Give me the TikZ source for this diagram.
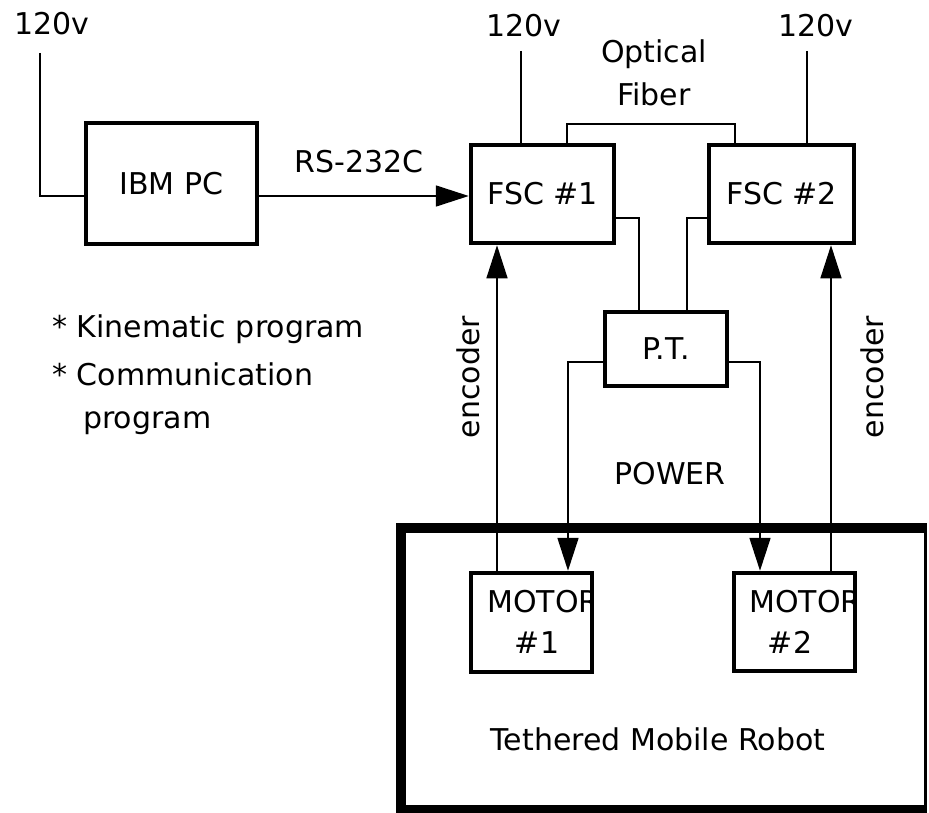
\documentclass[tikz,border=0pt]{standalone}
\usepackage{fontspec}
\setmainfont{DejaVu Sans}
\usetikzlibrary{arrows.meta}
\begin{document}
\begin{tikzpicture}[
	x=1pt,y=-1pt,
	font=\fontsize{30}{43}\selectfont,
	blk/.style={draw,line width=4.5pt,inner sep=0pt},
	txt/.style={inner sep=0pt},
	wire/.style={line width=1.7pt},
	sig/.style={wire,-{Triangle[length=33pt,width=21pt]}},
	enc/.style={line width=1.3pt,-{Triangle[length=33pt,width=21pt]}}
	]
	\useasboundingbox (0,0) rectangle (929,813);
	% robot frame
	\draw[line width=3pt] (925,524) -- (925,812);
	\draw[line width=10pt] (926.5,528) -- (401,528) -- (401,810) -- (926.5,810);
	% boxes
	\node[blk,minimum width=171,minimum height=121] (pc) at (171.5,183.5) {IBM PC};
	\node[blk,minimum width=143,minimum height=98] (f1) at (542.5,194) {FSC \#1};
	\node[blk,minimum width=145,minimum height=98] (f2) at (781.5,194) {FSC \#2};
	\node[blk,minimum width=122,minimum height=74] (pt) at (666,349) {P.T.};
	\node[blk,minimum width=121,minimum height=99] (m1) at (531.5,622.5) {};
	\node[blk,minimum width=121,minimum height=98] (m2) at (794.5,622) {};
	\foreach \n/\x/\c in {1/487/537,2/749/790}{
		\begin{scope}
			\clip (m\n.south west) rectangle ([xshift=-4.5pt]m\n.north east);
			\node[txt,anchor=base west] (mt\n) at (\x,612) {MOTOR};
		\end{scope}
		\node[txt,anchor=base] (mn\n) at (\c,653) {\#\n};
	}
	% labels
	\foreach \n/\x/\y in {0/52/35,1/524/37,2/816/37}{
		\node[txt,anchor=base] (v\n) at (\x,\y) {120v};
	}
	\node[txt,anchor=base] (rs) at (359,173) {RS-232C};
	\node[txt,align=center] (of) at (654,73) {Optical\\Fiber};
	\node[txt,anchor=base] (pw) at (670,484) {POWER};
	\node[txt,anchor=base] (tmr) at (658,750) {Tethered Mobile Robot};
	\node[txt,rotate=90] (e1) at (468,377) {encoder};
	\node[txt,rotate=90] (e2) at (872,377) {encoder};
	\node[txt,anchor=base west] (k1) at (52,337) {* Kinematic program};
	\node[txt,anchor=base west] (k2) at (52,385) {* Communication};
	\node[txt,anchor=base west] (k3) at (83,428) {program};
	% supply lines
	\coordinate (c0) at (40,53);
	\coordinate (bus) at (0,196);
	\draw[wire] (c0) |- (pc.west |- bus);
	\foreach \n/\x in {1/521,2/807}{
		\coordinate (c\n) at (\x,51);
		\draw[wire] (c\n) -- (c\n |- f\n.north);
	}
	\draw[sig] (pc.east |- bus) -- (f1.west |- bus);
	% optical fiber
	\coordinate (fa) at (567,124);
	\coordinate (fb) at (735,124);
	\draw[wire] (fa |- f1.north) -- (fa) -- (fb) -- (fb |- f2.north);
	% fsc to p.t.
	\coordinate (ta) at (639,218);
	\coordinate (tb) at (687,218);
	\draw[wire] (f1.east |- ta) -| (ta |- pt.north);
	\draw[wire] (f2.west |- tb) -| (tb |- pt.north);
	% power
	\coordinate (pa) at (568,362);
	\coordinate (pb) at (760,362);
	\draw[sig] (pt.west |- pa) -| (m1.north -| pa);
	\draw[sig] (pt.east |- pb) -| (m2.north -| pb);
	% encoders
	\coordinate (ea) at (497,0);
	\coordinate (eb) at (831,0);
	\draw[enc] (m1.north -| ea) -- (f1.south -| ea);
	\draw[enc] (m2.north -| eb) -- (f2.south -| eb);
\end{tikzpicture}
\end{document}
